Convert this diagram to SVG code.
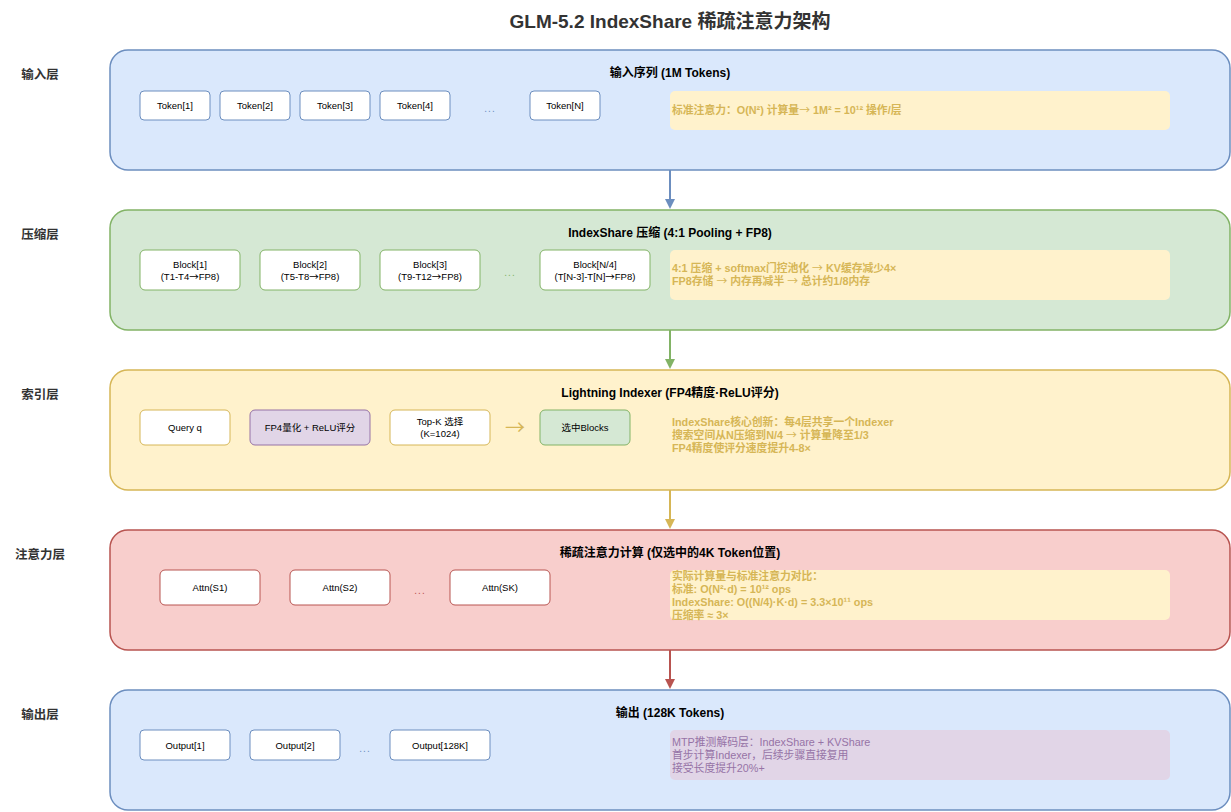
<svg xmlns="http://www.w3.org/2000/svg" width="1231" height="812" viewBox="0 0 1231 812">
<style>
text{font-family:"Liberation Sans","Noto Sans CJK SC",sans-serif;}
.title{font-size:19px;font-weight:bold;fill:#333;text-anchor:middle;}
.side{font-size:12.5px;font-weight:bold;fill:#333;text-anchor:middle;}
.lt{font-size:12px;font-weight:bold;fill:#000;text-anchor:middle;}
.n{font-size:9.5px;fill:#000;text-anchor:middle;}
.dots{font-size:10px;text-anchor:middle;letter-spacing:1px;}
.note{font-size:10.8px;font-weight:bold;fill:#d6b656;}
.notep{font-size:10.8px;fill:#9673a6;}
.ar{font-family:"Noto Sans CJK SC",sans-serif;font-weight:normal;}
.blue{fill:#dae8fc;stroke:#6c8ebf;stroke-width:1.5;}
.green{fill:#d5e8d4;stroke:#82b366;stroke-width:1.5;}
.yellow{fill:#fff2cc;stroke:#d6b656;stroke-width:1.5;}
.red{fill:#f8cecc;stroke:#b85450;stroke-width:1.5;}
.wb{fill:#fff;stroke:#6c8ebf;}
.wg{fill:#fff;stroke:#82b366;}
.wy{fill:#fff;stroke:#d6b656;}
.wr{fill:#fff;stroke:#b85450;}
.nb{fill:#fff2cc;stroke:none;}
.np{fill:#e1d5e7;stroke:none;}
</style>
<defs>
<marker id="ab" markerWidth="10" markerHeight="10" refX="8" refY="5" orient="auto" markerUnits="userSpaceOnUse"><path d="M0,0 L10,5 L0,10 Z" fill="#6c8ebf"/></marker>
<marker id="ag" markerWidth="10" markerHeight="10" refX="8" refY="5" orient="auto" markerUnits="userSpaceOnUse"><path d="M0,0 L10,5 L0,10 Z" fill="#82b366"/></marker>
<marker id="ay" markerWidth="10" markerHeight="10" refX="8" refY="5" orient="auto" markerUnits="userSpaceOnUse"><path d="M0,0 L10,5 L0,10 Z" fill="#d6b656"/></marker>
<marker id="ar" markerWidth="10" markerHeight="10" refX="8" refY="5" orient="auto" markerUnits="userSpaceOnUse"><path d="M0,0 L10,5 L0,10 Z" fill="#b85450"/></marker>
</defs>
<rect width="1231" height="812" fill="#fff"/>
<text class="title" x="670" y="28">GLM-5.2 IndexShare 稀疏注意力架构</text>

<g id="labels">
<text class="side" x="40" y="79">输入层</text>
<text class="side" x="40" y="239">压缩层</text>
<text class="side" x="40" y="399">索引层</text>
<text class="side" x="40" y="559">注意力层</text>
<text class="side" x="40" y="719">输出层</text>
</g>

<g id="layer-input">
<rect class="blue" x="110" y="50" width="1120" height="120" rx="18"/>
<text class="lt" x="670" y="77">输入序列 (1M Tokens)</text>
</g>
<g id="token1"><rect class="wb" x="140" y="91" width="70" height="29" rx="4"/><text class="n" x="175" y="109">Token[1]</text></g>
<g id="token2"><rect class="wb" x="220" y="91" width="70" height="29" rx="4"/><text class="n" x="255" y="109">Token[2]</text></g>
<g id="token3"><rect class="wb" x="300" y="91" width="70" height="29" rx="4"/><text class="n" x="335" y="109">Token[3]</text></g>
<g id="token4"><rect class="wb" x="380" y="91" width="70" height="29" rx="4"/><text class="n" x="415" y="109">Token[4]</text></g>
<g id="token-dots"><text class="dots" x="490" y="112" fill="#6c8ebf">...</text></g>
<g id="tokenN"><rect class="wb" x="530" y="91" width="70" height="29" rx="4"/><text class="n" x="565" y="109">Token[N]</text></g>
<g id="note1"><rect class="nb" x="670" y="91" width="500" height="39" rx="5"/><text class="note" x="672" y="114">标准注意力：O(N²) 计算量<tspan class="ar">→</tspan> 1M² = 10¹² 操作/层</text></g>

<g id="layer-compress">
<rect class="green" x="110" y="210" width="1120" height="120" rx="18"/>
<text class="lt" x="670" y="237">IndexShare 压缩 (4:1 Pooling + FP8)</text>
</g>
<g id="block1"><rect class="wg" x="140" y="250" width="100" height="40" rx="5"/><text class="n" x="190" y="268">Block[1]</text><text class="n" x="190" y="280">(T1-T4<tspan class="ar">→</tspan>FP8)</text></g>
<g id="block2"><rect class="wg" x="260" y="250" width="100" height="40" rx="5"/><text class="n" x="310" y="268">Block[2]</text><text class="n" x="310" y="280">(T5-T8<tspan class="ar">→</tspan>FP8)</text></g>
<g id="block3"><rect class="wg" x="380" y="250" width="100" height="40" rx="5"/><text class="n" x="430" y="268">Block[3]</text><text class="n" x="430" y="280">(T9-T12<tspan class="ar">→</tspan>FP8)</text></g>
<g id="block-dots"><text class="dots" x="510" y="276" fill="#82b366">...</text></g>
<g id="blockN"><rect class="wg" x="540" y="250" width="110" height="40" rx="5"/><text class="n" x="595" y="268">Block[N/4]</text><text class="n" x="595" y="280">(T[N-3]-T[N]<tspan class="ar">→</tspan>FP8)</text></g>
<g id="note2"><rect class="nb" x="670" y="250" width="500" height="50" rx="5"/><text class="note" x="672" y="272">4:1 压缩 + softmax门控池化 <tspan class="ar">→</tspan> KV缓存减少4×</text><text class="note" x="672" y="285">FP8存储 <tspan class="ar">→</tspan> 内存再减半 <tspan class="ar">→</tspan> 总计约1/8内存</text></g>

<g id="layer-index">
<rect class="yellow" x="110" y="370" width="1120" height="120" rx="18"/>
<text class="lt" x="670" y="397">Lightning Indexer (FP4精度·ReLU评分)</text>
</g>
<g id="query"><rect class="wy" x="140" y="410" width="90" height="35" rx="5"/><text class="n" x="185" y="431">Query q</text></g>
<g id="fp4"><rect x="250" y="410" width="120" height="35" rx="5" fill="#e1d5e7" stroke="#9673a6"/><text class="n" x="310" y="431">FP4量化 + ReLU评分</text></g>
<g id="topk"><rect class="wy" x="390" y="410" width="100" height="35" rx="5"/><text class="n" x="440" y="425">Top-K 选择</text><text class="n" x="440" y="437">(K=1024)</text></g>
<g id="arrow-sym"><text x="515" y="435" font-size="20" fill="#d6b656" text-anchor="middle" class="ar">→</text></g>
<g id="selected"><rect x="540" y="410" width="90" height="35" rx="5" fill="#d5e8d4" stroke="#82b366"/><text class="n" x="585" y="431">选中Blocks</text></g>
<g id="note3"><rect class="nb" x="670" y="410" width="500" height="50" rx="5"/><text class="note" x="672" y="426">IndexShare核心创新：每4层共享一个Indexer</text><text class="note" x="672" y="439">搜索空间从N压缩到N/4 <tspan class="ar">→</tspan> 计算量降至1/3</text><text class="note" x="672" y="452">FP4精度使评分速度提升4-8×</text></g>

<g id="layer-attn">
<rect class="red" x="110" y="530" width="1120" height="120" rx="18"/>
<text class="lt" x="670" y="557">稀疏注意力计算 (仅选中的4K Token位置)</text>
</g>
<g id="attn1"><rect class="wr" x="160" y="570" width="100" height="35" rx="5"/><text class="n" x="210" y="591">Attn(S1)</text></g>
<g id="attn2"><rect class="wr" x="290" y="570" width="100" height="35" rx="5"/><text class="n" x="340" y="591">Attn(S2)</text></g>
<g id="attn-dots"><text class="dots" x="420" y="594" fill="#b85450">...</text></g>
<g id="attnK"><rect class="wr" x="450" y="570" width="100" height="35" rx="5"/><text class="n" x="500" y="591">Attn(SK)</text></g>
<g id="note4"><rect class="nb" x="670" y="570" width="500" height="50" rx="5"/><text class="note" x="672" y="580">实际计算量与标准注意力对比：</text><text class="note" x="672" y="593">标准: O(N²·d) = 10¹² ops</text><text class="note" x="672" y="606">IndexShare: O((N/4)·K·d) = 3.3×10¹¹ ops</text><text class="note" x="672" y="619">压缩率 ≈ 3×</text></g>

<g id="layer-output">
<rect class="blue" x="110" y="690" width="1120" height="120" rx="18"/>
<text class="lt" x="670" y="717">输出 (128K Tokens)</text>
</g>
<g id="out1"><rect class="wb" x="140" y="730" width="90" height="30" rx="4"/><text class="n" x="185" y="749">Output[1]</text></g>
<g id="out2"><rect class="wb" x="250" y="730" width="90" height="30" rx="4"/><text class="n" x="295" y="749">Output[2]</text></g>
<g id="out-dots"><text class="dots" x="365" y="752" fill="#6c8ebf">...</text></g>
<g id="outK"><rect class="wb" x="390" y="730" width="100" height="30" rx="4"/><text class="n" x="440" y="749">Output[128K]</text></g>
<g id="note5"><rect class="np" x="670" y="730" width="500" height="50" rx="5"/><text class="notep" x="672" y="746">MTP推测解码层：IndexShare + KVShare</text><text class="notep" x="672" y="759">首步计算Indexer，后续步骤直接复用</text><text class="notep" x="672" y="772">接受长度提升20%+</text></g>

<g id="connectors" fill="none" stroke-width="2">
<line x1="670" y1="170" x2="670" y2="207" stroke="#6c8ebf" marker-end="url(#ab)"/>
<line x1="670" y1="330" x2="670" y2="367" stroke="#82b366" marker-end="url(#ag)"/>
<line x1="670" y1="490" x2="670" y2="527" stroke="#d6b656" marker-end="url(#ay)"/>
<line x1="670" y1="650" x2="670" y2="687" stroke="#b85450" marker-end="url(#ar)"/>
</g>
</svg>
